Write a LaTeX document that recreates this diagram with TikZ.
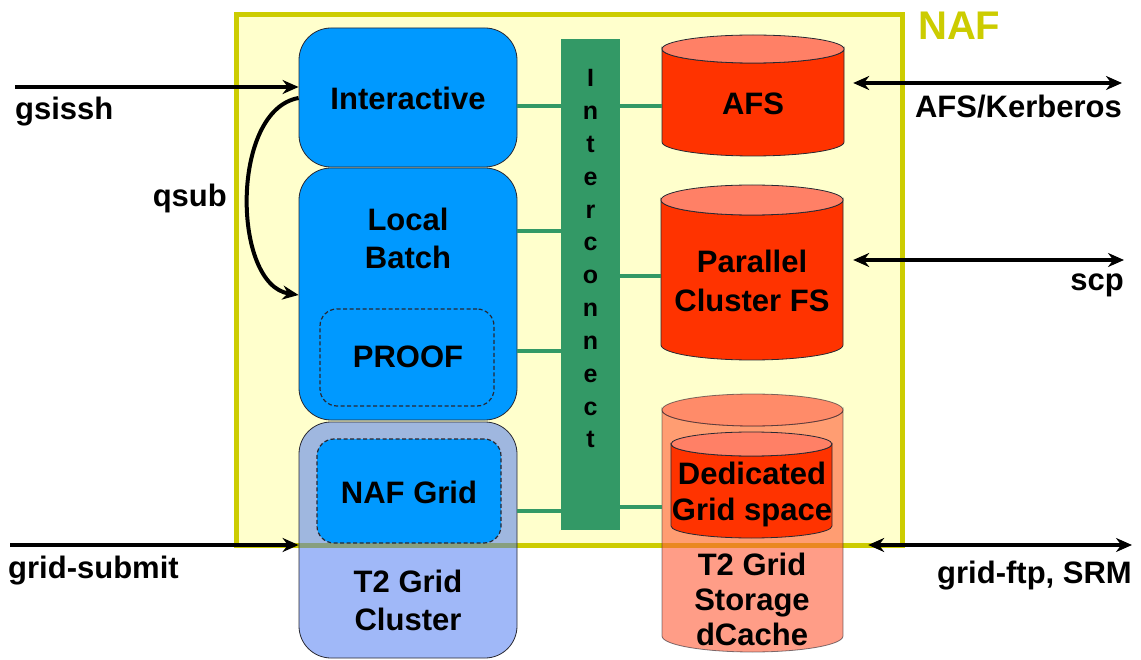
\documentclass[tikz,border=0pt]{standalone}
\usepackage{fontspec}
\setmainfont{Liberation Sans}
\usetikzlibrary{arrows.meta}
\definecolor{nafy}{RGB}{204,204,0}
\definecolor{naffill}{RGB}{255,255,204}
\definecolor{boxblue}{RGB}{0,153,255}
\definecolor{icgreen}{RGB}{51,153,102}
\definecolor{cylred}{RGB}{255,51,0}
\definecolor{cyltop}{RGB}{255,128,102}
\definecolor{t2blue}{RGB}{75,120,241}
\definecolor{t2sal}{RGB}{255,92,55}
\definecolor{t2saltop}{RGB}{255,62,40}
\definecolor{edgec}{RGB}{40,40,50}
\newcommand{\drawcyl}[7]{%
  \path[cylline, fill=#6] (#1,#3+#5) -- (#1,#4-#5)
    arc[start angle=180,end angle=0,x radius={(#2-#1)/2},y radius=#5]
    -- (#2,#3+#5)
    arc[start angle=0,end angle=180,x radius={(#2-#1)/2},y radius=#5] -- cycle;
  \path[cylline, fill=#7] ({(#1+#2)/2},#3+#5) ellipse[x radius={(#2-#1)/2}, y radius=#5];
}
\tikzset{
  lbl/.style={anchor=base, inner sep=0pt, font=\fontsize{31}{37}\selectfont\bfseries},
  icl/.style={anchor=base, inner sep=0pt, font=\fontsize{25}{30}\selectfont\bfseries},
  blkbox/.style={draw=edgec, line width=0.8pt, fill=boxblue, rounded corners=32pt, inner sep=0pt},
  dashbox/.style={draw=edgec, line width=1.2pt, dash pattern=on 4pt off 2.5pt, rounded corners=17pt, inner sep=0pt},
  gline/.style={draw=icgreen, line width=4.5pt},
  arr/.style={line width=4pt, -{Stealth[length=16pt,width=14pt]}},
  darr/.style={line width=4pt, {Stealth[length=16pt,width=14pt]}-{Stealth[length=16pt,width=14pt]}},
  cylline/.style={draw=edgec, line width=0.8pt},
  area/.style={inner sep=0pt, draw=none},
}
\begin{document}
\begin{tikzpicture}[x=1pt,y=-1pt]
\useasboundingbox (0,0) rectangle (1141,660);
% NAF frame
\node[draw=nafy, line width=5pt, fill=naffill, minimum width=666pt, minimum height=530.5pt, inner sep=0pt] (naf) at (569.5,280.25) {};
\node[lbl, anchor=base west, font=\fontsize{40}{44}\selectfont\bfseries, text=nafy] (naflbl) at (918,40) {NAF};
% compute boxes
\node[blkbox, minimum width=218pt, minimum height=139pt] (inter) at (408,97.5) {};
\node[blkbox, minimum width=218pt, minimum height=252pt] (batch) at (408,294) {};
\node[dashbox, minimum width=174pt, minimum height=97pt] (proof) at (407,357.5) {};
% interconnect
\node[fill=icgreen, minimum width=59pt, minimum height=491pt, inner sep=0pt] (ic) at (590.5,284.5) {};
\foreach \ch [count=\i from 0] in {I,n,t,e,r,c,o,n,n,e,c,t}
  \node[icl] (icl\i) at (590.5,87+32.8*\i) {\ch};
% storage cylinders
\drawcyl{662}{844}{35}{156}{14}{cylred}{cyltop}
\node[area, minimum width=182pt, minimum height=121pt] (afs) at (753,95.5) {};
\drawcyl{661}{843}{185}{360}{15}{cylred}{cyltop}
\node[area, minimum width=182pt, minimum height=175pt] (par) at (752,272.5) {};
% T2 grid cluster
\node[blkbox, fill=t2blue, fill opacity=0.53, minimum width=218pt, minimum height=236pt] (t2c) at (408,540) {};
\node[dashbox, fill=boxblue, minimum width=184pt, minimum height=104pt] (ngrid) at (409,491) {};
% T2 storage
\begin{scope}[opacity=0.6]
\drawcyl{662}{843}{394}{652}{16}{t2sal}{t2saltop}
\end{scope}
\node[area, minimum width=181pt, minimum height=258pt] (t2s) at (752.5,523) {};
\drawcyl{671}{832}{432}{538}{12}{cylred}{cyltop}
\node[area, minimum width=161pt, minimum height=106pt] (ded) at (751.5,485) {};
% green links
\draw[gline] (inter.east |- 0,106) -- (ic.west |- 0,106);
\draw[gline] (ic.east |- 0,106) -- (afs.west |- 0,106);
\draw[gline] (batch.east |- 0,231) -- (ic.west |- 0,231);
\draw[gline] (ic.east |- 0,276) -- (par.west |- 0,276);
\draw[gline] (batch.east |- 0,351) -- (ic.west |- 0,351);
\draw[gline] (t2c.east |- 0,511) -- (ic.west |- 0,511);
\draw[gline] (ic.east |- 0,507) -- (t2s.west |- 0,507);
% labels in boxes
\node[lbl] (tinter) at (408,110) {Interactive};
\node[lbl] (tlocal) at (408,231) {Local};
\node[lbl] (tbatch) at (408,269) {Batch};
\node[lbl] (tproof) at (408,368) {PROOF};
\node[lbl] (tngrid) at (409,503) {NAF Grid};
\node[lbl] (tt2a) at (408,592) {T2 Grid};
\node[lbl] (tt2b) at (408,630) {Cluster};
\node[lbl] (tafs) at (753,115) {AFS};
\node[lbl] (tpara) at (752,273) {Parallel};
\node[lbl] (tparb) at (752,312) {Cluster FS};
\node[lbl] (tdeda) at (752,484) {Dedicated};
\node[lbl] (tdedb) at (752,520) {Grid space};
\node[lbl] (tsta) at (752,575) {T2 Grid};
\node[lbl] (tstb) at (752,610) {Storage};
\node[lbl] (tstc) at (752,645) {dCache};
% outside arrows
\coordinate (gsL) at (15,87);
\draw[arr] (gsL) -- (inter.west |- gsL);
\node[lbl, anchor=base west] (tgs) at (15,120) {gsissh};
\draw[arr] (inter.west |- 0,98) .. controls (230,110) and (232,285) .. (batch.west |- 0,295);
\node[lbl, anchor=base east] (tqsub) at (227,207) {qsub};
\coordinate (akR) at (1122,83);
\draw[darr] ([xshift=9pt]afs.east |- akR) -- (akR);
\node[lbl, anchor=base east] (tak) at (1122,118) {AFS/Kerberos};
\coordinate (scpR) at (1124,260);
\draw[darr] ([xshift=10pt]par.east |- scpR) -- (scpR);
\node[lbl, anchor=base east] (tscp) at (1124,291) {scp};
\coordinate (gsubL) at (10,545);
\draw[arr] (gsubL) -- (t2c.west |- gsubL);
\node[lbl, anchor=base west] (tgsub) at (8,578) {grid-submit};
\coordinate (gftpR) at (1132,545);
\draw[darr] ([xshift=25pt]t2s.east |- gftpR) -- (gftpR);
\node[lbl, anchor=base east] (tgftp) at (1132,583) {grid-ftp, SRM};
\end{tikzpicture}
\end{document}
